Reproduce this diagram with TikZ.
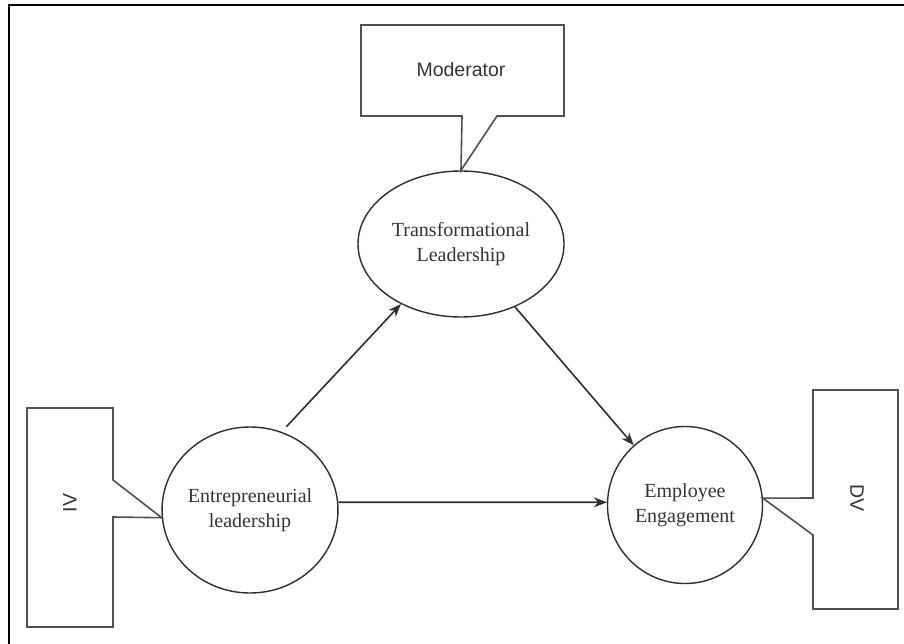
\documentclass[tikz,border=0pt]{standalone}
\usepackage{fontspec}
\setmainfont{Liberation Serif}
\newfontfamily\calloutfont{Liberation Sans}
\usetikzlibrary{arrows.meta,shapes.geometric}
\definecolor{linegray}{HTML}{2E2E2E}
\definecolor{boxgray}{HTML}{505050}
\definecolor{textgray}{HTML}{333333}
\begin{document}
\begin{tikzpicture}[x=1pt,y=-1pt,
  varnode/.style={ellipse,draw=linegray,line width=1.4pt,inner sep=0pt,align=center,
    font=\fontsize{20}{25}\selectfont,text=textgray},
  callout/.style={draw=boxgray,line width=1.6pt,line join=miter},
  callouttext/.style={font=\calloutfont\fontsize{19.5}{24}\selectfont,text=textgray},
  link/.style={draw=linegray,line width=1.6pt,-{Stealth[length=13pt,width=10pt]}},
  frameline/.style={draw=black,line width=2.5pt}]
\useasboundingbox (0,0) rectangle (904,644);
% outer frame (top and left edges only visible)
\draw[frameline] (9,644) -- (9,5) -- (904,5);
% variable nodes
\node[varnode,minimum width=206pt,minimum height=146pt] (TL) at (461,244) {Transformational\\Leadership};
\node[varnode,minimum width=172pt,minimum height=166pt] (EL) at (250,510) {Entrepreneurial\\leadership};
\node[varnode,minimum width=155pt,minimum height=157pt] (EE) at (685,505) {Employee\\Engagement};
% callouts
\draw[callout] (361,25) -- (564,25) -- (564,116) -- (497,116) -- (TL.north) -- (462,116) -- (361,116) -- cycle;
\node[callouttext] (MOD) at (461,70) {Moderator};
\draw[callout] (27,408) -- (113,408) -- (113,480) -- (EL.185) -- (113,517) -- (113,627) -- (27,627) -- cycle;
\node[callouttext,rotate=90] (IV) at (70,503) {IV};
\draw[callout] (813,390) -- (898,390) -- (898,609) -- (813,609) -- (813,535) -- (EE.5) -- (813,498) -- cycle;
\node[callouttext,rotate=-90] (DV) at (857,498) {DV};
% connectors
\draw[link,shorten <=7pt] (EL.68) -- (TL.225);
\draw[link] (TL) -- (EE);
\draw[link] (EL.5) -- (EE.178);
\end{tikzpicture}
\end{document}
